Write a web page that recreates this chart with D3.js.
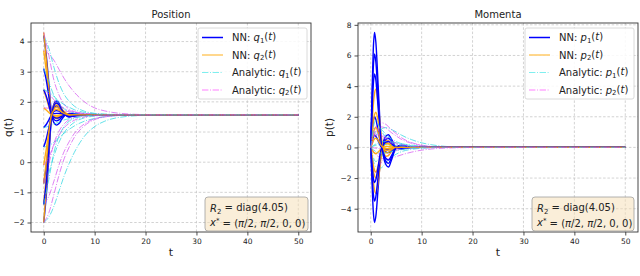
<!DOCTYPE html>
<html><head><meta charset="utf-8">
<script src="https://cdn.jsdelivr.net/npm/d3@7"></script>
<style>body{margin:0;background:#fff} svg{display:block;font-family:"DejaVu Sans",sans-serif}</style>
</head><body><svg id="c" width="640" height="276"></svg>
<script>
// ---- data ----
const xTicks = [0,10,20,30,40,50];
const qTicks = [-2,-1,0,1,2,3,4];
const pTicks = [-4,-2,0,2,4,6,8];
const tNNq = [0,0.5,1,1.5,2,2.5,3,3.5,4,5,6,8,12,50];
const tNNp = [0,0.25,0.5,0.75,1,1.5,2,2.5,3,3.5,4,5,6,8,12,50];
const tAn  = [0,1,2,3,4,5,6,8,10,12,15,20,50];

const nnQ1 = [
[4.2,3.54,2.62,1.65,1.31,1.23,1.28,1.41,1.52,1.62,1.60,1.57,1.57,1.57],
[-2.0,-1.11,0.14,1.46,1.93,2.03,1.96,1.78,1.64,1.50,1.53,1.57,1.57,1.57],
[3.1,2.72,2.18,1.62,1.42,1.37,1.40,1.48,1.55,1.60,1.59,1.57,1.57,1.57],
[1.15,1.25,1.40,1.56,1.61,1.62,1.62,1.60,1.58,1.56,1.57,1.57,1.57,1.57],
[-0.7,-0.13,0.66,1.50,1.80,1.87,1.82,1.71,1.62,1.52,1.55,1.57,1.57,1.57],
[0.5,0.77,1.14,1.54,1.68,1.71,1.69,1.63,1.59,1.55,1.56,1.57,1.57,1.57],
[2.4,2.19,1.90,1.59,1.49,1.46,1.48,1.52,1.55,1.59,1.58,1.57,1.57,1.57],
[-1.4,-0.66,0.38,1.48,1.87,1.96,1.90,1.75,1.63,1.51,1.54,1.57,1.57,1.57]
];
const nnQ2 = [
[3.7,3.02,2.27,1.61,1.50,1.47,1.49,1.53,1.56,1.58,1.57,1.57,1.57,1.57],
[4.3,3.43,2.47,1.62,1.48,1.44,1.47,1.52,1.56,1.58,1.57,1.57,1.57,1.57],
[-2.0,-0.86,0.39,1.50,1.89,1.96,1.89,1.78,1.68,1.58,1.57,1.57,1.57,1.57],
[2.4,2.13,1.84,1.59,1.52,1.50,1.52,1.54,1.56,1.57,1.57,1.57,1.57,1.57],
[1.8,1.73,1.65,1.58,1.55,1.55,1.56,1.57,1.57,1.57,1.57,1.57,1.57,1.57],
[-1.4,-0.45,0.59,1.51,1.84,1.90,1.84,1.75,1.66,1.57,1.57,1.57,1.57,1.57],
[-0.7,0.03,0.82,1.52,1.77,1.82,1.77,1.71,1.64,1.57,1.57,1.57,1.57,1.57],
[-0.1,0.43,1.02,1.54,1.72,1.75,1.72,1.67,1.62,1.57,1.57,1.57,1.57,1.57]
];
const anQ1 = [
[4.2,3.78,3.15,2.62,2.25,2.02,1.86,1.69,1.62,1.59,1.58,1.57,1.57],
[-2.0,-1.82,-1.46,-0.96,-0.46,-0.04,0.32,0.86,1.18,1.36,1.49,1.55,1.57],
[3.1,2.67,2.21,1.94,1.77,1.68,1.63,1.59,1.58,1.57,1.57,1.57,1.57],
[1.15,1.19,1.26,1.33,1.40,1.44,1.48,1.53,1.55,1.56,1.57,1.57,1.57],
[-0.7,-0.34,0.21,0.66,0.98,1.18,1.32,1.47,1.53,1.55,1.57,1.57,1.57],
[0.5,0.55,0.66,0.81,0.96,1.09,1.20,1.36,1.45,1.51,1.55,1.56,1.57],
[2.4,2.33,2.18,2.03,1.91,1.82,1.74,1.65,1.61,1.59,1.58,1.57,1.57],
[-1.4,-0.57,0.32,0.86,1.18,1.36,1.45,1.53,1.56,1.57,1.57,1.57,1.57]
];
const anQ2 = [
[3.7,3.59,3.38,3.08,2.78,2.53,2.32,2.00,1.80,1.70,1.62,1.58,1.57],
[4.3,3.54,2.72,2.23,1.92,1.76,1.68,1.60,1.58,1.57,1.57,1.57,1.57],
[-2.0,-1.68,-1.07,-0.43,0.11,0.50,0.82,1.21,1.41,1.50,1.55,1.57,1.57],
[2.4,2.27,2.07,1.90,1.79,1.71,1.66,1.61,1.59,1.58,1.57,1.57,1.57],
[1.8,1.79,1.77,1.73,1.70,1.67,1.65,1.62,1.60,1.58,1.58,1.57,1.57],
[-1.4,-1.13,-0.63,-0.09,0.35,0.68,0.95,1.27,1.44,1.51,1.55,1.57,1.57],
[-0.7,-0.06,0.62,1.03,1.27,1.41,1.48,1.54,1.56,1.57,1.57,1.57,1.57],
[-0.1,0.17,0.57,0.90,1.14,1.29,1.39,1.50,1.54,1.56,1.57,1.57,1.57]
];
const nnP1 = [
[0,-2.21,-4.17,-4.9,-4.51,-2.45,-0.39,0.39,0.74,0.83,0.59,0,-0.1,0,0,0],
[0,3.38,6.38,7.5,6.9,3.75,0.6,-0.6,-1.13,-1.28,-0.9,0,0.15,0,0,0],
[0,-1.58,-2.98,-3.5,-3.22,-1.75,-0.28,0.28,0.53,0.6,0.42,0,-0.07,0,0,0],
[0,0.36,0.68,0.8,0.74,0.4,0.06,-0.06,-0.12,-0.14,-0.1,0,0.02,0,0,0],
[0,2.16,4.08,4.8,4.42,2.4,0.38,-0.38,-0.72,-0.82,-0.58,0,0.1,0,0,0],
[0,0.9,1.7,2.0,1.84,1.0,0.16,-0.16,-0.3,-0.34,-0.24,0,0.04,0,0,0],
[0,-1.04,-1.96,-2.3,-2.12,-1.15,-0.18,0.18,0.35,0.39,0.28,0,-0.05,0,0,0],
[0,2.75,5.19,6.1,5.61,3.05,0.49,-0.49,-0.92,-1.04,-0.73,0,0.12,0,0,0]
];
const nnP2 = [
[0,-0.7,-1.44,-1.86,-2.0,-1.44,-0.5,0.1,0.3,0.28,0.16,-0.02,-0.02,0,0,0],
[0,-1.05,-2.16,-2.79,-3.0,-2.16,-0.75,0.15,0.45,0.42,0.24,-0.03,-0.03,0,0,0],
[0,1.33,2.74,3.53,3.8,2.74,0.95,-0.19,-0.57,-0.53,-0.3,0.04,0.04,0,0,0],
[0,-0.56,-1.15,-1.49,-1.6,-1.15,-0.4,0.08,0.24,0.22,0.13,-0.02,-0.02,0,0,0],
[0,-0.14,-0.29,-0.37,-0.4,-0.29,-0.1,0.02,0.06,0.06,0.03,0,0,0,0,0],
[0,0.81,1.66,2.14,2.3,1.66,0.58,-0.12,-0.35,-0.32,-0.18,0.02,0.02,0,0,0],
[0,0.46,0.94,1.21,1.3,0.94,0.33,-0.07,-0.2,-0.18,-0.1,0.01,0.01,0,0,0],
[0,0.21,0.43,0.56,0.6,0.43,0.15,-0.03,-0.09,-0.08,-0.05,0,0,0,0,0]
];
const anP1 = [
[0,-1.26,-1.34,-0.98,-0.66,-0.44,-0.28,-0.13,-0.05,-0.02,0,0,0],
[0,0.75,1.18,1.29,1.18,1.01,0.81,0.51,0.30,0.17,0.06,0.01,0],
[0,-0.92,-0.57,-0.35,-0.20,-0.11,-0.06,-0.02,-0.01,0,0,0,0],
[0,0.14,0.19,0.18,0.14,0.11,0.08,0.04,0.02,0.01,0,0,0],
[0,1.09,1.16,0.84,0.57,0.38,0.25,0.11,0.04,0.02,0,0,0],
[0,0.22,0.35,0.39,0.35,0.30,0.24,0.15,0.09,0.05,0.02,0,0],
[0,-0.27,-0.37,-0.35,-0.27,-0.21,-0.15,-0.07,-0.03,-0.01,0,0,0],
[0,1.78,1.10,0.68,0.39,0.21,0.12,0.04,0.01,0,0,0,0]
];
const anP2 = [
[0,-0.45,-0.70,-0.77,-0.70,-0.60,-0.49,-0.31,-0.18,-0.10,-0.04,-0.01,0],
[0,-1.64,-1.02,-0.62,-0.36,-0.20,-0.11,-0.04,-0.01,0,0,0,0],
[0,1.18,1.61,1.50,1.18,0.90,0.64,0.32,0.15,0.06,0.02,0,0],
[0,-0.40,-0.42,-0.31,-0.21,-0.14,-0.09,-0.04,-0.01,-0.01,0,0,0],
[0,-0.05,-0.08,-0.08,-0.08,-0.06,-0.05,-0.03,-0.02,-0.01,0,0,0],
[0,0.98,1.34,1.25,0.98,0.75,0.53,0.27,0.12,0.05,0.02,0,0],
[0,1.36,0.84,0.52,0.30,0.16,0.10,0.03,0.01,0,0,0,0],
[0,0.80,0.85,0.62,0.42,0.28,0.18,0.08,0.03,0.01,0,0,0]
];

// ---- drawing ----
const svg = d3.select("#c");
const C = {nn1:"#0000ff", nn2:"#ffa500", an1:"#22d4e0", an2:"#d040f0"};

function mathLabel(sel, prefix, sym, sub) {
  sel.append("tspan").text(prefix);
  sel.append("tspan").attr("font-style","italic").text(sym);
  sel.append("tspan").attr("font-size","0.7em").attr("dy","0.25em").text(sub);
  sel.append("tspan").attr("dy","-0.25em").text("(");
  sel.append("tspan").attr("font-style","italic").text("t");
  sel.append("tspan").text(")");
}

function panel(o) {
  const g = svg.append("g");
  const x = d3.scaleLinear().domain([-2.5,52.5]).range([o.x0,o.x1]);
  const y = d3.scaleLinear().domain(o.yd).range([o.y1,o.y0]);
  const id = "clip"+o.key;
  svg.append("clipPath").attr("id",id).append("rect")
     .attr("x",o.x0).attr("y",o.y0).attr("width",o.x1-o.x0).attr("height",o.y1-o.y0);
  // grid
  g.append("g").selectAll("line").data(xTicks).join("line")
    .attr("x1",d=>x(d)).attr("x2",d=>x(d)).attr("y1",o.y0).attr("y2",o.y1)
    .attr("stroke","#c8c8c8").attr("stroke-width",0.8).attr("stroke-dasharray","2.5,1.8");
  g.append("g").selectAll("line").data(o.yt).join("line")
    .attr("y1",d=>y(d)).attr("y2",d=>y(d)).attr("x1",o.x0).attr("x2",o.x1)
    .attr("stroke","#c8c8c8").attr("stroke-width",0.8).attr("stroke-dasharray","2.5,1.8");
  // lines
  const lg = g.append("g").attr("clip-path",`url(#${id})`).attr("fill","none");
  const mk = ts => d3.line().x((d,i)=>x(ts[i])).y(d=>y(d)).curve(d3.curveMonotoneX);
  for (let i=0;i<o.nn1.length;i++){
    lg.append("path").attr("d",mk(o.tn)(o.nn1[i])).attr("stroke",C.nn1).attr("stroke-width",1.4);
    lg.append("path").attr("d",mk(o.tn)(o.nn2[i])).attr("stroke",C.nn2).attr("stroke-width",1.4).attr("stroke-opacity",0.9);
    lg.append("path").attr("d",mk(tAn)(o.an1[i])).attr("stroke",C.an1).attr("stroke-width",1).attr("stroke-opacity",0.7).attr("stroke-dasharray","6.4,1.6,1,1.6");
    lg.append("path").attr("d",mk(tAn)(o.an2[i])).attr("stroke",C.an2).attr("stroke-width",1).attr("stroke-opacity",0.65).attr("stroke-dasharray","6.4,1.6,1,1.6");
  }
  // axes
  const fmt = d3.format("d");
  const xa = g.append("g").attr("transform",`translate(0,${o.y1})`)
    .call(d3.axisBottom(x).tickValues(xTicks).tickFormat(fmt).tickSize(3.5).tickPadding(3));
  const ya = g.append("g").attr("transform",`translate(${o.x0},0)`)
    .call(d3.axisLeft(y).tickValues(o.yt).tickFormat(fmt).tickSize(3.5).tickPadding(3));
  [xa,ya].forEach(a=>{a.select(".domain").remove();
    a.selectAll("text").attr("font-size","7.5px").attr("font-family","DejaVu Sans").attr("fill","#222");
    a.selectAll("line").attr("stroke","#222").attr("stroke-width",0.8);});
  g.append("rect").attr("x",o.x0).attr("y",o.y0).attr("width",o.x1-o.x0).attr("height",o.y1-o.y0)
    .attr("fill","none").attr("stroke","#333").attr("stroke-width",0.9);
  // title and labels
  g.append("text").attr("x",(o.x0+o.x1)/2).attr("y",o.y0-5).attr("text-anchor","middle")
    .attr("font-size","10px").attr("fill","#222").text(o.title);
  g.append("text").attr("x",(o.x0+o.x1)/2).attr("y",256).attr("text-anchor","middle")
    .attr("font-size","11px").attr("fill","#222").text("t");
  g.append("text").attr("transform",`translate(${o.ylx},${(o.y0+o.y1)/2}) rotate(-90)`)
    .attr("text-anchor","middle").attr("font-size","10.5px").attr("fill","#222").text(o.ylab);
  // legend
  const L = o.leg;
  g.append("rect").attr("x",L.x).attr("y",28).attr("width",L.w).attr("height",71).attr("rx",2)
    .attr("fill","#fff").attr("fill-opacity",0.85).attr("stroke","#d0d0d0").attr("stroke-width",0.8);
  const rows = [
    {c:C.nn1,op:1,dash:null,pre:"NN: ",s:"1"},
    {c:C.nn2,op:0.6,dash:null,pre:"NN: ",s:"2"},
    {c:"#00e0e0",op:0.5,dash:"6.4,1.6,1,1.6",pre:"Analytic: ",s:"1"},
    {c:"#ff00ff",op:0.5,dash:"6.4,1.6,1,1.6",pre:"Analytic: ",s:"2"}];
  const ry = [37.5,55,72.5,90];
  rows.forEach((r,k)=>{
    const ln = g.append("line").attr("x1",L.x+4).attr("x2",L.x+25).attr("y1",ry[k]).attr("y2",ry[k])
      .attr("stroke",r.c).attr("stroke-opacity",r.op).attr("stroke-width",1.5);
    if (r.dash) ln.attr("stroke-dasharray",r.dash).attr("stroke-width",1.1);
    const t = g.append("text").attr("x",L.x+34).attr("y",ry[k]+3.5).attr("font-size","10px").attr("fill","#222");
    mathLabel(t, r.pre, o.sym, r.s);
  });
  // annotation box
  const A = o.ann;
  g.append("rect").attr("x",A.x).attr("y",197).attr("width",A.w).attr("height",34).attr("rx",3)
    .attr("fill","#f5deb3").attr("fill-opacity",0.5).attr("stroke","#a0a0a0").attr("stroke-width",0.8);
  const t1 = g.append("text").attr("x",A.x+5).attr("y",212).attr("font-size","10px").attr("fill","#222");
  t1.append("tspan").attr("font-style","italic").text("R");
  t1.append("tspan").attr("font-size","0.7em").attr("dy","0.25em").text("2");
  t1.append("tspan").attr("dy","-0.25em").text(" = diag(4.05)");
  const t2 = g.append("text").attr("x",A.x+5).attr("y",226).attr("font-size","10px").attr("fill","#222");
  t2.append("tspan").attr("font-style","italic").text("x");
  t2.append("tspan").attr("font-size","0.7em").attr("dy","-0.4em").text("*");
  t2.append("tspan").attr("dy","0.4em").text(" = (");
  t2.append("tspan").attr("font-style","italic").text("π");
  t2.append("tspan").text("/2, ");
  t2.append("tspan").attr("font-style","italic").text("π");
  t2.append("tspan").text("/2, 0, 0)");
}

panel({key:"L",x0:31,x1:311,y0:23,y1:232,yd:[-2.315,4.615],yt:qTicks,title:"Position",ylab:"q(t)",ylx:12,sym:"q",
  tn:tNNq,nn1:nnQ1,nn2:nnQ2,an1:anQ1,an2:anQ2,leg:{x:198,w:109},ann:{x:205,w:103}});
panel({key:"R",x0:358,x1:638,y0:23,y1:232,yd:[-5.52,8.12],yt:pTicks,title:"Momenta",ylab:"p(t)",ylx:333,sym:"p",
  tn:tNNp,nn1:nnP1,nn2:nnP2,an1:anP1,an2:anP2,leg:{x:525,w:109},ann:{x:532,w:102}});
</script></body></html>
